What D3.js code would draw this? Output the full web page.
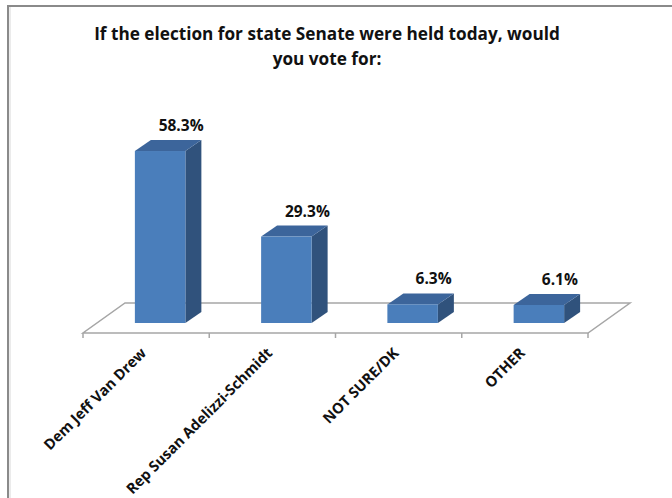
<!DOCTYPE html>
<html>
<head>
<meta charset="utf-8">
<script src="https://cdn.jsdelivr.net/npm/d3@7"></script>
<style>
  body { margin: 0; background: #fff; }
  svg { display: block; font-family: "Open Sans", "DejaVu Sans", sans-serif; }
</style>
</head>
<body>
<svg id="chart" width="672" height="498"></svg>
<script>
const categories = ['Dem Jeff Van Drew', 'Rep Susan Adelizzi-Schmidt', 'NOT SURE/DK', 'OTHER'];
const values = [58.3, 29.3, 6.3, 6.1];
const valueLabels = ['58.3%', '29.3%', '6.3%', '6.1%'];
const titleLines = ['If the election for state Senate were held today, would', 'you vote for:'];

const colors = {
  front: '#4a7ebb',
  side: '#30527c',
  top: '#3c659b',
  floor: '#a6a6a6'
};

const svg = d3.select('#chart');

// Frame lines (the picture is a cropped screenshot)
svg.append('line').attr('x1', 8).attr('x2', 8).attr('y1', 5).attr('y2', 498)
  .style('stroke', '#8a8a8a').style('stroke-width', 2);
svg.append('line').attr('x1', 7).attr('x2', 672).attr('y1', 6).attr('y2', 6)
  .style('stroke', '#8a8a8a').style('stroke-width', 2);
svg.append('line').attr('x1', 10).attr('x2', 10).attr('y1', 7).attr('y2', 498)
  .style('stroke', '#d8d8d8').style('stroke-width', 1);

// Title
svg.append('g')
  .selectAll('text')
  .data(titleLines)
  .join('text')
  .attr('x', 327)
  .attr('y', (d, i) => 40 + i * 25)
  .attr('text-anchor', 'middle')
  .style('font-size', '17.2px')
  .style('font-weight', 'bold')
  .style('fill', '#111')
  .text(d => d);

// Geometry of the pseudo-3D plot
const floorFront = 333;
const floorDepth = { dx: 42, dy: -30 };
const barOffset = { dx: 14, dy: -10 };   // bars sit a third into the floor
const barDepth = { dx: 16, dy: -11 };

const xScale = d3.scaleBand()
  .domain(categories)
  .range([83, 588])
  .padding(0);

const barBase = floorFront + barOffset.dy;
const yScale = d3.scaleLinear()
  .domain([0, 60])
  .range([barBase, barBase - 177]);

const barWidth = xScale.bandwidth() * 0.4;

// Floor
const x0 = xScale.range()[0], x1 = xScale.range()[1];
svg.append('path')
  .attr('d', `M${x0},${floorFront} L${x1},${floorFront} L${x1 + floorDepth.dx},${floorFront + floorDepth.dy} L${x0 + floorDepth.dx},${floorFront + floorDepth.dy} Z`)
  .style('fill', '#fff')
  .style('stroke', colors.floor)
  .style('stroke-width', 1.5);

// Ticks under the front edge
const tickXs = categories.map(c => xScale(c)).concat([x1]);
svg.append('g')
  .selectAll('line')
  .data(tickXs)
  .join('line')
  .attr('x1', d => d).attr('x2', d => d)
  .attr('y1', floorFront).attr('y2', floorFront + 5)
  .style('stroke', colors.floor)
  .style('stroke-width', 1.5);

// Bars
const bars = svg.append('g')
  .selectAll('g.bar')
  .data(categories.map((c, i) => ({ cat: c, value: values[i], label: valueLabels[i] })))
  .join('g')
  .attr('class', 'bar');

const left = d => xScale(d.cat) + (xScale.bandwidth() - barWidth) / 2 + barOffset.dx;
const right = d => left(d) + barWidth;
const topY = d => yScale(d.value);

// side face
bars.append('path')
  .attr('d', d => `M${right(d)},${barBase} L${right(d) + barDepth.dx},${barBase + barDepth.dy} L${right(d) + barDepth.dx},${topY(d) + barDepth.dy} L${right(d)},${topY(d)} Z`)
  .style('fill', colors.side);

// top face
bars.append('path')
  .attr('d', d => `M${left(d)},${topY(d)} L${right(d)},${topY(d)} L${right(d) + barDepth.dx},${topY(d) + barDepth.dy} L${left(d) + barDepth.dx},${topY(d) + barDepth.dy} Z`)
  .style('fill', colors.top);

// front face
bars.append('rect')
  .attr('x', d => left(d))
  .attr('y', d => topY(d))
  .attr('width', barWidth)
  .attr('height', d => barBase - topY(d))
  .style('fill', colors.front);

// Value labels
bars.append('text')
  .attr('x', d => (left(d) + right(d)) / 2 + 21)
  .attr('y', d => topY(d) + barDepth.dy - 9)
  .attr('text-anchor', 'middle')
  .style('font-size', '15.5px')
  .style('font-weight', 'bold')
  .style('fill', '#111')
  .text(d => d.label);

// Category labels, rotated
svg.append('g')
  .selectAll('text')
  .data(categories)
  .join('text')
  .attr('transform', d => `translate(${xScale(d) + xScale.bandwidth() / 2 + 1}, ${floorFront + 21}) rotate(-45)`)
  .attr('text-anchor', 'end')
  .style('font-size', '14.7px')
  .style('font-weight', 'bold')
  .style('fill', '#111')
  .text(d => d);
</script>
</body>
</html>
